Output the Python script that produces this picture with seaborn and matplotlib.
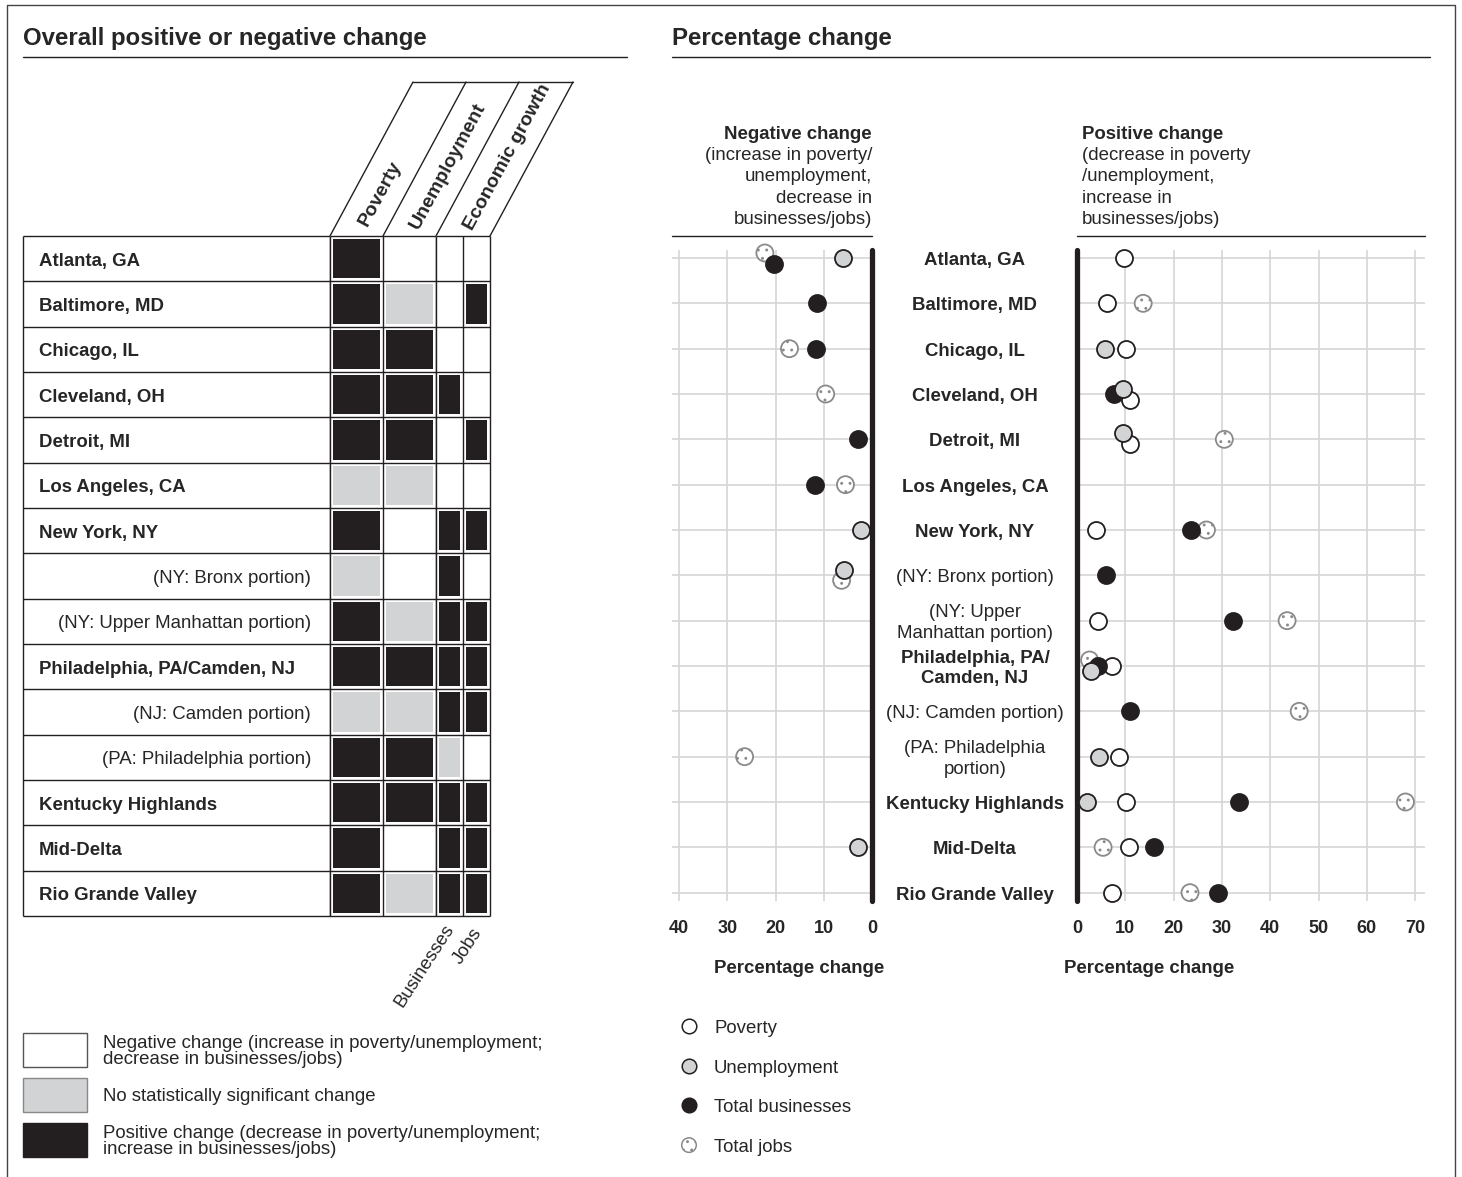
import numpy as np
import pandas as pd
import matplotlib
matplotlib.use('Agg')
import matplotlib.pyplot as plt
from matplotlib.colors import ListedColormap
from matplotlib.patches import Rectangle
from matplotlib.transforms import blended_transform_factory
import seaborn as sns

# --- Data ---
places = ["Atlanta, GA", "Baltimore, MD", "Chicago, IL", "Cleveland, OH", "Detroit, MI",
          "Los Angeles, CA", "New York, NY", "(NY: Bronx portion)",
          "(NY: Upper Manhattan portion)", "Philadelphia, PA/Camden, NJ",
          "(NJ: Camden portion)", "(PA: Philadelphia portion)",
          "Kentucky Highlands", "Mid-Delta", "Rio Grande Valley"]
mid_labels = ["Atlanta, GA", "Baltimore, MD", "Chicago, IL", "Cleveland, OH", "Detroit, MI",
              "Los Angeles, CA", "New York, NY", "(NY: Bronx portion)",
              "(NY: Upper\nManhattan portion)", "Philadelphia, PA/\nCamden, NJ",
              "(NJ: Camden portion)", "(PA: Philadelphia\nportion)",
              "Kentucky Highlands", "Mid-Delta", "Rio Grande Valley"]
is_portion = [False] * 7 + [True, True, False, True, True] + [False] * 3

# 0 = negative change, 1 = no significant change, 2 = positive change
poverty_sig  = [2, 2, 2, 2, 2, 1, 2, 1, 2, 2, 1, 2, 2, 2, 2]
unemp_sig    = [0, 1, 2, 2, 2, 1, 0, 0, 1, 2, 1, 2, 2, 0, 1]
business_sig = [0, 0, 0, 2, 0, 0, 2, 2, 2, 2, 2, 1, 2, 2, 2]
jobs_sig     = [0, 2, 0, 0, 2, 0, 2, 0, 2, 2, 2, 0, 2, 2, 2]

# percentage change: > 0 positive change, < 0 negative change, nan = not shown
nan = np.nan
poverty_pct  = [9.7, 6.2, 10.1, 10.9, 10.9, nan, 3.9, nan, 4.3, 7.3, nan, 8.7, 10.2, 10.8, 7.3]
unemp_pct    = [-6.0, nan, 5.9, 9.6, 9.5, nan, -2.2, -5.7, nan, 2.9, nan, 4.6, 2.1, -3.0, nan]
business_pct = [-20.4, -11.3, -11.6, 7.7, -2.8, -11.8, 23.7, 6.0, 32.4, 4.4, 10.9, nan, 33.6, 15.9, 29.1]
jobs_pct     = [-22.2, 13.7, -17.1, -9.6, 30.5, -5.5, 26.8, -6.3, 43.5, 2.6, 46.0, -26.4, 68.0, 5.4, 23.4]

# --- Style ---
INK = '#231f20'
GRAY = '#d1d3d4'
GRID = '#d6d6d6'
W, H = 1462, 1177
ROW_PX = 680 / 15
FS = 13.4
DY = 2.5  # text centring correction (pixels)

# small vertical nudges (pixels) where dots overlap
nudge = {("Total jobs", 0): -5, ("Total businesses", 0): 6,
         ("Unemployment", 3): -5, ("Poverty", 3): 6,
         ("Unemployment", 4): -6, ("Poverty", 4): 5,
         ("Unemployment", 7): -5, ("Total jobs", 7): 5,
         ("Total jobs", 9): -6, ("Unemployment", 9): 5}

sns.set_style('white')
plt.rcParams['font.family'] = ['Liberation Sans', 'DejaVu Sans']
plt.rcParams['hatch.color'] = '#8a8a8a'
plt.rcParams['hatch.linewidth'] = 0.9

fig = plt.figure(figsize=(W / 100, H / 100), dpi=100)


def box(x0, y0, x1, y1):
    return [x0 / W, 1 - y1 / H, (x1 - x0) / W, (y1 - y0) / H]


ov = fig.add_axes([0, 0, 1, 1])
ov.set_xlim(0, W)
ov.set_ylim(H, 0)
ov.axis('off')

# frame and titles
ov.plot([7, 7, 1455, 1455], [H, 5, 5, H], color='#444444', lw=1)
ov.text(23, 36 + DY, "Overall positive or negative change", fontsize=17.3, fontweight='bold', va='center')
ov.plot([23, 627], [57, 57], color=INK, lw=1)
ov.text(672, 36 + DY, "Percentage change", fontsize=17.3, fontweight='bold', va='center')
ov.plot([672, 1430], [57, 57], color=INK, lw=1)

n = len(places)

# --- Left: table of significance ---
ax_names = fig.add_axes(box(23, 236, 330, 916))
ax_names.set_xlim(0, 1)
ax_names.set_ylim(n, 0)
ax_names.axis('off')
ax_names.hlines(range(n + 1), 0, 1, color=INK, lw=1, clip_on=False)
ax_names.vlines([0, 1], 0, n, color=INK, lw=1, clip_on=False)
for i, (name, portion) in enumerate(zip(places, is_portion)):
    yy = i + 0.5 + DY / ROW_PX
    if portion:
        ax_names.text(0.938, yy, name, ha='right', va='center', fontsize=FS)
    else:
        ax_names.text(0.052, yy, name, ha='left', va='center', fontsize=FS, fontweight='bold')

cmap = ListedColormap(['white', GRAY, INK])
sig1 = pd.DataFrame({'Poverty': poverty_sig, 'Unemployment': unemp_sig}, index=places)
sig2 = pd.DataFrame({'Businesses': business_sig, 'Jobs': jobs_sig}, index=places)
for df, (x0, x1) in [(sig1, (330, 436)), (sig2, (436, 490))]:
    ax = fig.add_axes(box(x0, 236, x1, 916))
    sns.heatmap(df, ax=ax, cmap=cmap, vmin=-0.5, vmax=2.5, cbar=False,
                linewidths=3, linecolor='white', xticklabels=False, yticklabels=False)
    ax.hlines(range(n + 1), 0, df.shape[1], color=INK, lw=1, clip_on=False)
    ax.vlines(range(df.shape[1] + 1), 0, n, color=INK, lw=1, clip_on=False)

# slanted header
bounds = [330, 383, 436, 490]
for b in bounds:
    ov.plot([b, b + 83], [236, 82], color=INK, lw=1)
ov.plot([bounds[0] + 83, bounds[-1] + 83], [82, 82], color=INK, lw=1)
for label, (cx, cy) in [("Poverty", (380, 194)), ("Unemployment", (448, 166)),
                        ("Economic growth", (508, 157))]:
    ov.text(cx, cy, label, rotation=61.5, rotation_mode='anchor', ha='center', va='center',
            fontsize=14, fontweight='bold')
ov.text(425, 966, "Businesses", rotation=57, rotation_mode='anchor', ha='center', va='center', fontsize=FS)
ov.text(468, 946, "Jobs", rotation=57, rotation_mode='anchor', ha='center', va='center', fontsize=FS)

# legend boxes
legend_rows = [('white', '#555555', "Negative change (increase in poverty/unemployment;\ndecrease in businesses/jobs)", 1033),
               (GRAY, '#888888', "No statistically significant change", 1078),
               (INK, INK, "Positive change (decrease in poverty/unemployment;\nincrease in businesses/jobs)", 1123)]
for fc, ec, txt, y0 in legend_rows:
    ov.add_patch(Rectangle((23, y0), 64, 34, facecolor=fc, edgecolor=ec, lw=1))
    ov.text(103, y0 + 17 + DY * 0.6, txt, ha='left', va='center', fontsize=FS, linespacing=1.0)

# --- Right: dot charts ---
measures = {"Poverty": poverty_pct, "Unemployment": unemp_pct,
            "Total businesses": business_pct, "Total jobs": jobs_pct}
rows = []
for m, vals in measures.items():
    for i, v in enumerate(vals):
        if not np.isnan(v):
            rows.append({'measure': m, 'row': i, 'value': v,
                         'y': i + nudge.get((m, i), 0) / ROW_PX})
dots = pd.DataFrame(rows)
dots['x'] = dots['value'].abs()

styles = {"Total jobs": dict(color='white', edgecolor='#8a8a8a', hatch='..'),
          "Poverty": dict(color='white', edgecolor=INK, hatch=None),
          "Total businesses": dict(color=INK, edgecolor=INK, hatch=None),
          "Unemployment": dict(color=GRAY, edgecolor=INK, hatch=None)}

ax_neg = fig.add_axes(box(672, 250, 872, 901))
ax_pos = fig.add_axes(box(1077, 250, 1425, 901))
ylim = ((901 - 258) / ROW_PX, (250 - 258) / ROW_PX)

for ax, side in [(ax_neg, dots['value'] < 0), (ax_pos, dots['value'] > 0)]:
    sub_all = dots[side]
    for m in ["Total jobs", "Poverty", "Total businesses", "Unemployment"]:
        sub = sub_all[sub_all['measure'] == m]
        if sub.empty:
            continue
        st = styles[m]
        sns.scatterplot(data=sub, x='x', y='y', ax=ax, color=st['color'], edgecolor=st['edgecolor'],
                        s=150, linewidth=1.3, zorder=3, legend=False, clip_on=False)
        if st['hatch']:
            ax.collections[-1].set_hatch(st['hatch'])
    ax.set_ylim(*ylim)
    ax.set_yticks(range(n))
    ax.set_yticklabels([])
    ax.grid(True, color=GRID, lw=1.2)
    ax.set_axisbelow(True)
    for s in ax.spines.values():
        s.set_visible(False)
    ax.axvline(0, color=INK, lw=3.8, clip_on=False, zorder=2)
    ax.tick_params(length=0, pad=14, labelsize=13)
    ax.set_facecolor('none')
    ax.set_xlabel("Percentage change", fontsize=FS, fontweight='bold')
    ax.set_ylabel('')

ax_neg.set_xlim(200 / 4.825, 0)
ax_neg.set_xticks([40, 30, 20, 10, 0])
ax_pos.set_xlim(0, 348 / 4.83)
ax_pos.set_xticks(range(0, 80, 10))
for ax in (ax_neg, ax_pos):
    for t in ax.get_xticklabels():
        t.set_fontweight('bold')
ax_neg.xaxis.set_label_coords((799 - 672) / 200, -(960 - 901) / 651)
ax_pos.xaxis.set_label_coords((1149 - 1077) / 348, -(960 - 901) / 651)

# centre place labels
tr = blended_transform_factory(ax_neg.transAxes, ax_neg.transData)
for i, (lab, portion) in enumerate(zip(mid_labels, is_portion)):
    ax_neg.text((975 - 672) / 200, i + DY / ROW_PX, lab, transform=tr, ha='center', va='center',
                fontsize=FS, fontweight='normal' if portion else 'bold', linespacing=1.3,
                clip_on=False)

# panel headers
ov.text(872, 132 + DY, "Negative change", ha='right', va='center', fontsize=FS, fontweight='bold')
for k, line in enumerate(["(increase in poverty/", "unemployment,", "decrease in", "businesses/jobs)"]):
    ov.text(872, 153 + 21.3 * k + DY, line, ha='right', va='center', fontsize=FS)
ov.plot([672, 872], [236, 236], color=INK, lw=1)
ov.text(1082, 132 + DY, "Positive change", ha='left', va='center', fontsize=FS, fontweight='bold')
for k, line in enumerate(["(decrease in poverty", "/unemployment,", "increase in", "businesses/jobs)"]):
    ov.text(1082, 153 + 21.3 * k + DY, line, ha='left', va='center', fontsize=FS)
ov.plot([1077, 1425], [236, 236], color=INK, lw=1)

# dot legend
for k, m in enumerate(["Poverty", "Unemployment", "Total businesses", "Total jobs"]):
    st = styles[m]
    y = 1026 + 39.7 * k
    sc = ov.scatter([689], [y], s=110, color=st['color'], edgecolor=st['edgecolor'], linewidth=1.1)
    if st['hatch']:
        sc.set_hatch(st['hatch'])
    ov.text(714, y + DY, m, ha='left', va='center', fontsize=FS)

plt.savefig('out.png', dpi=100)
